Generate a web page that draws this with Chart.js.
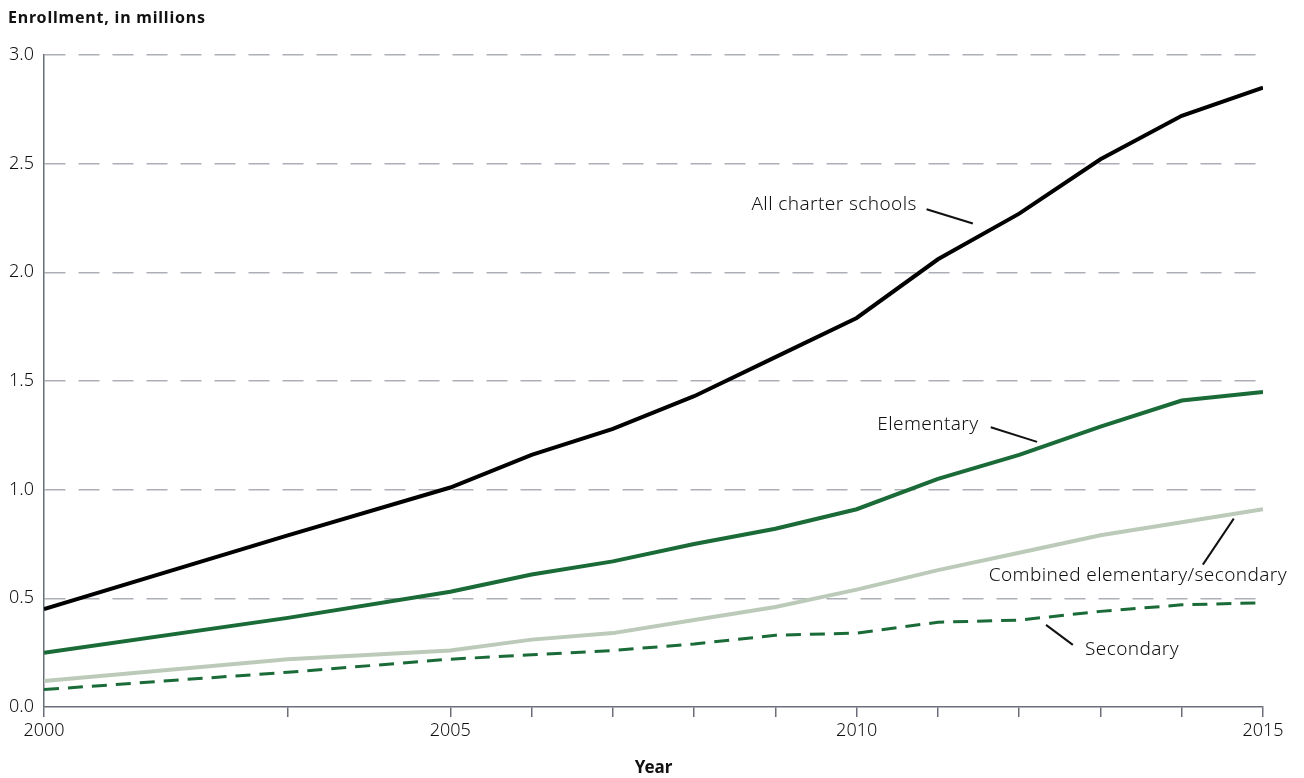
<!DOCTYPE html>
<html>
<head>
<meta charset="utf-8">
<script src="https://cdn.jsdelivr.net/npm/chart.js@4"></script>
<style>
  html, body { margin: 0; padding: 0; background: #fff; }
  #wrap { width: 1304px; height: 778px; }
</style>
</head>
<body>
<div id="wrap"><canvas id="enrollment-chart"></canvas></div>
<script>
// school years shown (2001, 2002 and 2004 are not in the series)
const years = [2000, 2003, 2005, 2006, 2007, 2008, 2009, 2010, 2011, 2012, 2013, 2014, 2015];
const allCharter = [0.45, 0.79, 1.01, 1.16, 1.28, 1.43, 1.61, 1.79, 2.06, 2.27, 2.52, 2.72, 2.85];
const elementary = [0.25, 0.41, 0.53, 0.61, 0.67, 0.75, 0.82, 0.91, 1.05, 1.16, 1.29, 1.41, 1.45];
const combined = [0.12, 0.22, 0.26, 0.31, 0.34, 0.40, 0.46, 0.54, 0.63, 0.71, 0.79, 0.85, 0.91];
const secondary = [0.08, 0.16, 0.22, 0.24, 0.26, 0.29, 0.33, 0.34, 0.39, 0.40, 0.44, 0.47, 0.48];
const yearLabels = [2000, 2005, 2010, 2015];

const FONT = "'Noto Sans', sans-serif";
const GREEN = '#1a6b38';
const AXIS = '#6a6e78';

function pts(vals) {
  return years.map((y, i) => ({ x: y, y: vals[i] }));
}

// series labels with leader lines, placed in data units
const callouts = [
  { text: 'All charter schools', tx: 2010.74, ty: 2.31, align: 'right', line: [2010.86, 2.29, 2011.43, 2.225] },
  { text: 'Elementary', tx: 2011.5, ty: 1.30, align: 'right', line: [2011.65, 1.287, 2012.22, 1.22] },
  { text: 'Combined elementary/secondary', tx: 2013.46, ty: 0.603, align: 'center', line: [2014.26, 0.655, 2014.64, 0.867] },
  { text: 'Secondary', tx: 2012.81, ty: 0.262, align: 'left', line: [2012.33, 0.378, 2012.66, 0.286] }
];

const calloutPlugin = {
  id: 'callouts',
  afterDatasetsDraw(chart) {
    const { ctx, scales: { x, y } } = chart;
    ctx.save();
    ctx.fillStyle = '#111';
    ctx.strokeStyle = '#111';
    ctx.lineWidth = 2;
    ctx.font = '300 19px ' + FONT;
    ctx.letterSpacing = '0.4px';
    ctx.textBaseline = 'middle';
    callouts.forEach(c => {
      ctx.textAlign = c.align;
      ctx.fillText(c.text, x.getPixelForValue(c.tx), y.getPixelForValue(c.ty));
      ctx.beginPath();
      ctx.moveTo(x.getPixelForValue(c.line[0]), y.getPixelForValue(c.line[1]));
      ctx.lineTo(x.getPixelForValue(c.line[2]), y.getPixelForValue(c.line[3]));
      ctx.stroke();
    });
    // axis heading top left
    ctx.textAlign = 'left';
    ctx.font = 'bold 16px ' + FONT;
    ctx.letterSpacing = '0.8px';
    ctx.fillText('Enrollment, in millions', 8, 18);
    ctx.restore();
  }
};

const ctx = document.getElementById('enrollment-chart');
new Chart(ctx, {
  type: 'line',
  data: {
    datasets: [
      { label: 'All charter schools', data: pts(allCharter), borderColor: '#000', borderWidth: 4 },
      { label: 'Elementary', data: pts(elementary), borderColor: GREEN, borderWidth: 4 },
      { label: 'Combined elementary/secondary', data: pts(combined), borderColor: '#bccbb9', borderWidth: 4 },
      { label: 'Secondary', data: pts(secondary), borderColor: GREEN, borderWidth: 3, borderDash: [15, 9] }
    ]
  },
  options: {
    responsive: true,
    maintainAspectRatio: false,
    animation: false,
    elements: { point: { radius: 0 }, line: { tension: 0, borderCapStyle: 'butt' } },
    layout: { padding: { top: 55, right: 41, left: 0, bottom: 0 } },
    plugins: { legend: { display: false }, tooltip: { enabled: false } },
    scales: {
      x: {
        type: 'linear',
        min: 2000,
        max: 2015,
        afterBuildTicks: s => { s.ticks = years.map(v => ({ value: v })); },
        afterFit: s => { s.height = 71; },
        grid: { drawOnChartArea: false, tickLength: 10, color: AXIS, lineWidth: 1.5 },
        border: { color: AXIS, width: 1.5 },
        ticks: {
          padding: 3,
          color: '#111',
          font: { family: FONT, size: 18, weight: 300 },
          maxRotation: 0,
          autoSkip: false,
          callback: v => yearLabels.includes(v) ? String(v) : ''
        },
        title: { display: true, text: 'Year', color: '#111', font: { family: FONT, size: 17, weight: 'bold' }, padding: { top: 12, bottom: 0 } }
      },
      y: {
        min: 0,
        max: 3,
        afterFit: s => { s.width = 44; },
        ticks: {
          stepSize: 0.5,
          padding: 10,
          color: '#111',
          font: { family: FONT, size: 18, weight: 300 },
          callback: v => v.toFixed(1)
        },
        grid: {
          drawTicks: false,
          color: c => c.tick && c.tick.value === 0 ? 'rgba(0,0,0,0)' : '#adafb6',
          lineWidth: 1.5
        },
        border: { color: AXIS, width: 1.5, dash: [21, 13] }
      }
    }
  },
  plugins: [calloutPlugin]
});
</script>
</body>
</html>
